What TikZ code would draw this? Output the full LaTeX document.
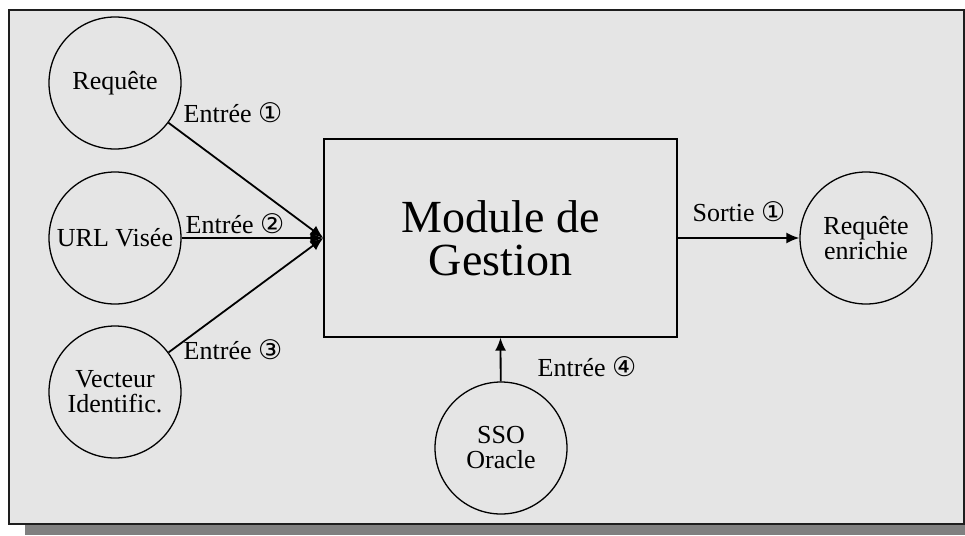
\documentclass[tikz,border=0pt]{standalone}
\usepackage{fontspec}
\setmainfont{Liberation Serif}
\newfontfamily\symfont{DejaVu Sans}
\usetikzlibrary{arrows.meta}
\newcommand{\cnum}[1]{{\symfont\fontsize{27}{27}\selectfont #1}}
\begin{document}
\begin{tikzpicture}[x=1pt,y=-1pt,
  bubble/.style={draw, circle, line width=1.3pt, minimum size=132pt, inner sep=0pt, align=center,
    font=\fontsize{26}{25}\selectfont},
  modbox/.style={draw, line width=1.3pt, minimum width=353pt, minimum height=198pt, inner sep=0pt, align=center,
    font=\fontsize{46}{43}\selectfont},
  lab/.style={font=\fontsize{26}{26}\selectfont, inner sep=0pt},
  conn/.style={line width=1.8pt, -{Latex[length=13pt,width=11pt]}}
]
\useasboundingbox (0,0) rectangle (965,535);
\fill[fill={rgb,255:red,128;green,128;blue,128}] (25,21) rectangle (965,535);
\filldraw[fill={rgb,255:red,229;green,229;blue,229}, draw={rgb,255:red,30;green,30;blue,30}, line width=2pt] (9,10) rectangle (964,524);

\node[modbox] (mod) at (500.5,238) {Module de\\Gestion};
\node[bubble] (req) at (115,83) {Requête};
\node[bubble] (url) at (115,238) {URL Visée};
\node[bubble] (vec) at (115,392) {Vecteur\\Identific.};
\node[bubble] (sso) at (501,448) {SSO\\Oracle};
\node[bubble] (out) at (866,238) {Requête\\enrichie};

\draw[conn] (req) -- (mod.west);
\draw[conn] (url) -- (mod.west);
\draw[conn] (vec) -- (mod.west);
\draw[conn] (sso) -- (mod.south);
\draw[conn] (mod.east) -- (out);

\node[lab] (l1) at (233,113) {Entrée \cnum{①}};
\node[lab] (l2) at (235,224) {Entrée \cnum{②}};
\node[lab] (l3) at (233,350) {Entrée \cnum{③}};
\node[lab] (l4) at (587,367) {Entrée \cnum{④}};
\node[lab] (l5) at (739,212) {Sortie \cnum{①}};
\end{tikzpicture}
\end{document}
